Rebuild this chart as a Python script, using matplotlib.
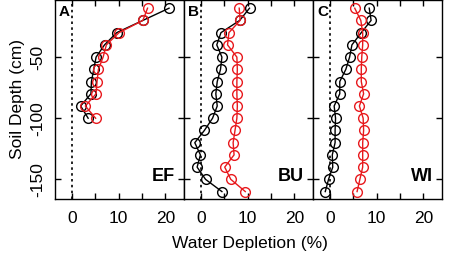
import matplotlib.pyplot as plt
from matplotlib.ticker import MultipleLocator

plt.rcParams['font.family'] = ['Liberation Sans', 'DejaVu Sans']
plt.rcParams['axes.unicode_minus'] = False

# Soil depth (cm)
depth_ef = [-10, -20, -30, -40, -50, -60, -70, -80, -90, -100]
depth_long = [-10, -20, -30, -40, -50, -60, -70, -80, -90, -100,
              -110, -120, -130, -140, -150, -160]

# Water depletion (%) - black and red series per site
ef_black = [20.8, 15.2, 9.6, 7.0, 5.2, 4.7, 4.2, 4.1, 1.9, 3.5]
ef_red = [16.2, 15.2, 10.1, 7.4, 6.7, 5.7, 5.4, 5.2, 2.9, 5.1]

bu_black = [10.4, 8.3, 4.3, 3.4, 4.5, 4.2, 3.5, 3.2, 3.5, 2.5,
            0.75, -1.3, -0.1, -0.8, 1.0, 4.5]
bu_red = [8.2, 8.4, 6.0, 5.7, 7.7, 7.8, 7.7, 7.7, 7.8, 7.7,
          7.3, 6.9, 7.1, 5.1, 6.4, 9.5]

wi_black = [8.4, 8.8, 6.7, 4.7, 4.2, 3.4, 2.1, 2.1, 0.9, 1.2,
            1.1, 1.1, 0.5, 0.6, -0.3, -1.0]
wi_red = [5.3, 6.6, 7.0, 7.0, 6.8, 6.7, 6.7, 7.2, 6.3, 7.1,
          7.2, 7.0, 7.0, 7.0, 6.4, 5.8]

panels = [
    ('A', 'EF', depth_ef, ef_black, ef_red),
    ('B', 'BU', depth_long, bu_black, bu_red),
    ('C', 'WI', depth_long, wi_black, wi_red),
]

fig, axes = plt.subplots(1, 3, figsize=(4.54, 2.56), dpi=100, sharey=True)
fig.subplots_adjust(left=0.121, right=0.974, top=1.0, bottom=0.223, wspace=0)

for ax, (letter, site, depth, black, red) in zip(axes, panels):
    ax.axvline(0, color='black', linestyle=(0, (1.5, 2)), linewidth=1.2)
    ax.plot(black, depth, color='black', marker='o', markersize=7,
            markerfacecolor='none', markeredgewidth=1, linewidth=1)
    ax.plot(red, depth, color='#e8191d', marker='o', markersize=7,
            markerfacecolor='none', markeredgewidth=1, linewidth=1)
    ax.set_xlim(-3.6, 24)
    ax.set_ylim(-166, -3.3)
    ax.set_xticks([0, 10, 20])
    ax.xaxis.set_minor_locator(MultipleLocator(5))
    ax.set_yticks([-50, -100, -150])
    ax.tick_params(direction='in', top=True, right=True, which='both',
                   labelsize=12.5, length=4, width=1)
    ax.tick_params(axis='x', pad=9)
    ax.tick_params(which='minor', length=4)
    for s in ax.spines.values():
        s.set_linewidth(1)
    ax.text(0.03, 0.975, letter, transform=ax.transAxes, fontsize=11,
            fontweight='bold', ha='left', va='top')
    ax.text(0.93, 0.07, site, transform=ax.transAxes, fontsize=13,
            fontweight='bold', ha='right', va='bottom')

axes[0].set_ylabel('Soil Depth (cm)', fontsize=12.5, labelpad=4)
axes[0].tick_params(axis='y', labelrotation=90, pad=7)
for lab in axes[0].get_yticklabels():
    lab.set_va('center')
fig.text(0.55, 0.02, 'Water Depletion (%)', ha='center', va='bottom', fontsize=12.5)

fig.savefig('out.png', dpi=100)
